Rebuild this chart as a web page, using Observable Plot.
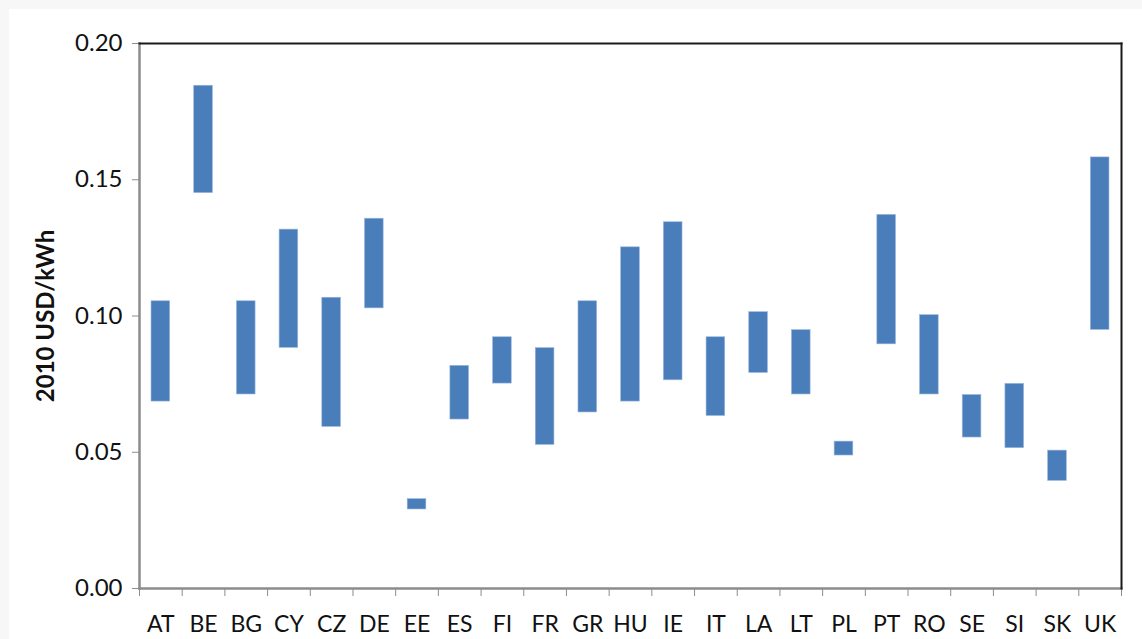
<!DOCTYPE html>
<html><head><meta charset="utf-8">
<script src="https://cdn.jsdelivr.net/npm/d3@7"></script>
<script src="https://cdn.jsdelivr.net/npm/@observablehq/plot@0.6"></script>
<style>
body{margin:0;background:#f7f7f7;}
#wrap{position:relative;width:1142px;height:639px;overflow:hidden;}
#panel{position:absolute;left:9px;top:9px;right:0;bottom:0;background:#fff;}
#chart{position:absolute;left:0;top:0;}
</style></head>
<body><div id="wrap"><div id="panel"></div><div id="chart"></div></div>
<script>
const countries = ["AT","BE","BG","CY","CZ","DE","EE","ES","FI","FR","GR","HU","IE","IT","LA","LT","PL","PT","RO","SE","SI","SK","UK"];
const low  = [0.0686,0.1451,0.0712,0.0883,0.0593,0.1028,0.0290,0.0620,0.0752,0.0527,0.0646,0.0686,0.0764,0.0633,0.0791,0.0712,0.0488,0.0896,0.0712,0.0554,0.0515,0.0395,0.0949];
const high = [0.1054,0.1845,0.1054,0.1317,0.1067,0.1357,0.0328,0.0817,0.0922,0.0882,0.1054,0.1252,0.1344,0.0922,0.1014,0.0948,0.0539,0.1371,0.1003,0.0710,0.0751,0.0506,0.1582];
const yTicks = [0, 0.05, 0.10, 0.15, 0.20];
const yLabel = "2010 USD/kWh";

const data = countries.map((c, i) => ({country: c, low: low[i], high: high[i]}));
const W = 1142, H = 639, ML = 139, MR = 21, MT = 43, MB = 51;
const step = (W - ML - MR) / countries.length;
const gray = "#8c8c8c";

const chart = Plot.plot({
  width: W, height: H,
  marginLeft: ML, marginRight: MR, marginTop: MT, marginBottom: MB,
  style: {background: "transparent", fontFamily: "Lato", fontSize: "24px", color: "#111"},
  x: {domain: countries, paddingInner: 0.563, paddingOuter: 0.2815, round: false, label: null},
  y: {domain: [0, 0.2], label: null},
  marks: [
    Plot.barY(data, {x: "country", y1: "low", y2: "high", fill: "#4a7ebb", stroke: "#9ab6dc", strokeWidth: 0.6}),
    Plot.axisY({ticks: yTicks, tickFormat: d3.format(".2f"), tickSize: 7, tickPadding: 10, stroke: gray, label: null}),
    Plot.axisX({tickSize: 0, tickPadding: 27, fontSize: 23, label: null}),
    Plot.axisX({tickSize: 8, tickFormat: () => "", dx: -step / 2, stroke: gray, label: null}),
    Plot.axisX([countries[countries.length - 1]], {tickSize: 8, tickFormat: () => "", dx: step / 2, stroke: gray, label: null}),
    Plot.frame({anchor: "left", stroke: gray, strokeWidth: 2.5}),
    Plot.frame({anchor: "bottom", stroke: gray, strokeWidth: 2.5}),
    Plot.frame({anchor: "top", stroke: "#1a1a1a", strokeWidth: 2}),
    Plot.frame({anchor: "right", stroke: "#1a1a1a", strokeWidth: 2}),
    Plot.text([yLabel], {text: d => d, frameAnchor: "left", textAnchor: "middle", lineAnchor: "middle", rotate: -90, dx: -93, fontWeight: "bold", fontSize: 24, letterSpacing: "0.5px", fill: "#111"})
  ]
});
document.getElementById("chart").appendChild(chart);
</script>
</body></html>
